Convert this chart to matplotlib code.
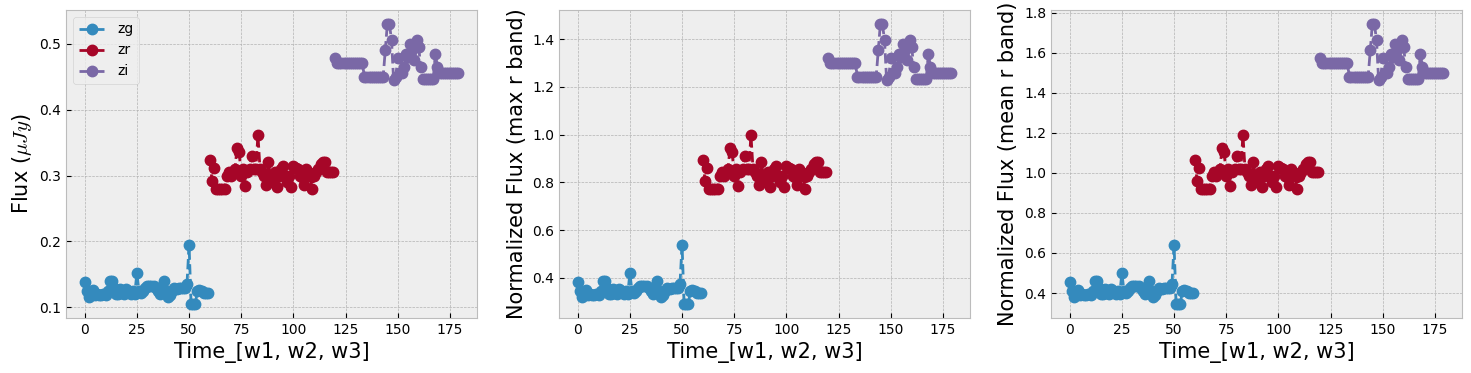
import matplotlib
matplotlib.use("Agg")
import matplotlib.pyplot as plt
import numpy as np

plt.style.use("bmh")

t_zg = list(range(0, 60))
t_zr = list(range(60, 120))
t_zi = list(range(120, 180))

zg = [0.138, 0.125, 0.115, 0.118, 0.127, 0.118, 0.120, 0.118, 0.118, 0.120,
      0.118, 0.125, 0.140, 0.140, 0.130, 0.120, 0.120, 0.128, 0.122, 0.120,
      0.128, 0.125, 0.120, 0.125, 0.120, 0.152, 0.125, 0.122, 0.125, 0.130,
      0.132, 0.133, 0.133, 0.133, 0.130, 0.125, 0.120, 0.125, 0.140, 0.125,
      0.115, 0.118, 0.125, 0.130, 0.128, 0.130, 0.130, 0.130, 0.130, 0.135,
      0.195, 0.105, 0.105, 0.105, 0.125, 0.127, 0.125, 0.122, 0.122, 0.122]

zr = [0.324, 0.292, 0.312, 0.280, 0.280, 0.280, 0.280, 0.280, 0.300, 0.305,
      0.300, 0.305, 0.310, 0.342, 0.335, 0.300, 0.310, 0.284, 0.305, 0.310,
      0.330, 0.310, 0.310, 0.362, 0.310, 0.305, 0.300, 0.285, 0.320, 0.300,
      0.290, 0.305, 0.282, 0.300, 0.310, 0.315, 0.300, 0.290, 0.300, 0.282,
      0.314, 0.312, 0.310, 0.300, 0.298, 0.285, 0.310, 0.305, 0.300, 0.280,
      0.300, 0.305, 0.310, 0.318, 0.320, 0.320, 0.305, 0.305, 0.305, 0.305]

zi = [0.478, 0.471, 0.471, 0.471, 0.471, 0.471, 0.471, 0.471, 0.471, 0.471,
      0.471, 0.471, 0.471, 0.471, 0.450, 0.450, 0.450, 0.450, 0.450, 0.450,
      0.450, 0.450, 0.450, 0.450, 0.490, 0.530, 0.530, 0.505, 0.445, 0.450,
      0.478, 0.455, 0.455, 0.465, 0.485, 0.480, 0.500, 0.490, 0.475, 0.505,
      0.495, 0.465, 0.447, 0.447, 0.447, 0.447, 0.447, 0.447, 0.485, 0.465,
      0.456, 0.456, 0.456, 0.456, 0.456, 0.456, 0.456, 0.456, 0.456, 0.456]

bands = ["zg", "zr", "zi"]
colors = ["#348ABD", "#A60628", "#7A68A6"]
ylabels = [r"Flux ($\mu Jy$)", "Normalized Flux (max r band)", "Normalized Flux (mean r band)"]
xlabel = "Time_[w1, w2, w3]"

times = [np.array(t_zg), np.array(t_zr), np.array(t_zi)]
fluxes = [np.array(zg), np.array(zr), np.array(zi)]
norms = [1.0, np.max(zr), np.mean(zr)]

fig = plt.figure(figsize=(14.71, 3.73), dpi=100)
lefts = [66, 559, 1051]
width = 411
for i in range(3):
    ax = fig.add_axes([lefts[i] / 1471, 1 - 318 / 373, width / 1471, (318 - 10) / 373])
    for b, c, t, f in zip(bands, colors, times, fluxes):
        ax.plot(t, f / norms[i], "--o", color=c, label=b, markersize=7.5, linewidth=2)
    ax.set_xlabel(xlabel, fontsize=15)
    ax.set_ylabel(ylabels[i], fontsize=15)
    ax.set_xticks([0, 25, 50, 75, 100, 125, 150, 175])
    if i == 0:
        ax.legend(loc="upper left")

fig.savefig("out.png", dpi=100)
